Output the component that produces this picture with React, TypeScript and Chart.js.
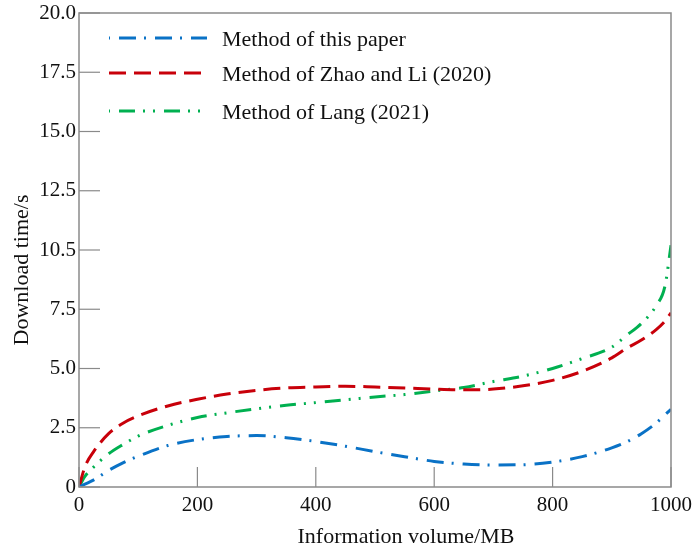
import React, { useEffect, useRef } from "react";
import { Chart, registerables } from "chart.js";

Chart.register(...registerables);

const xValues = [0, 10, 25, 50, 75, 100, 150, 200, 250, 300, 350, 400, 450, 500, 550, 600, 650, 700, 750, 800, 850, 900, 925, 950, 975, 990, 1000];
const thisPaper = [0, 0.12, 0.3, 0.7, 1.03, 1.3, 1.75, 2.0, 2.13, 2.17, 2.08, 1.92, 1.72, 1.49, 1.28, 1.08, 0.97, 0.93, 0.94, 1.05, 1.28, 1.65, 1.9, 2.25, 2.7, 3.05, 3.28];
const zhaoLi = [0, 0.85, 1.5, 2.25, 2.7, 3.0, 3.42, 3.7, 3.92, 4.08, 4.18, 4.22, 4.25, 4.22, 4.18, 4.13, 4.1, 4.13, 4.27, 4.5, 4.88, 5.45, 5.85, 6.2, 6.64, 7.0, 7.35];
const lang = [0, 0.45, 0.85, 1.4, 1.8, 2.15, 2.6, 2.93, 3.13, 3.3, 3.45, 3.56, 3.68, 3.8, 3.9, 4.05, 4.2, 4.45, 4.68, 5.0, 5.42, 5.9, 6.4, 6.9, 7.65, 8.5, 10.2];

const seriesNames = ["Method of this paper", "Method of Zhao and Li (2020)", "Method of Lang (2021)"];
const xTickLabels = ["0", "200", "400", "600", "800", "1000"];
const yTickLabels = ["0", "2.5", "5.0", "7.5", "10.5", "12.5", "15.0", "17.5", "20.0"];
const xTitle = "Information volume/MB";
const yTitle = "Download time/s";

const FONT = '"Liberation Serif", "Times New Roman", serif';
const colors = ["#0a72c6", "#c8000a", "#00b050"];
const dashes = [[17, 8, 2, 9], [17, 8], [16, 8, 2, 8, 2, 9]];
const AXIS = "#8a8a8a";

const framePlugin = {
  id: "frame",
  afterDraw(chart: any) {
    const { ctx, chartArea } = chart;
    const { left, right, top, bottom } = chartArea;
    ctx.save();
    ctx.strokeStyle = AXIS;
    ctx.lineWidth = 1.5;
    ctx.strokeRect(left, top, right - left, bottom - top);
    // inward tick marks
    ctx.lineWidth = 1.2;
    const xs = chart.scales.x;
    xs.ticks.forEach((t: any) => {
      const px = xs.getPixelForValue(t.value);
      ctx.beginPath();
      ctx.moveTo(px, bottom);
      ctx.lineTo(px, bottom - 20);
      ctx.stroke();
    });
    const ys = chart.scales.y;
    ys.ticks.forEach((t: any) => {
      const py = ys.getPixelForValue(t.value);
      ctx.beginPath();
      ctx.moveTo(left, py);
      ctx.lineTo(left + 21, py);
      ctx.stroke();
    });
    // axis titles
    ctx.fillStyle = "#111";
    ctx.font = `22px ${FONT}`;
    ctx.textAlign = "center";
    ctx.textBaseline = "alphabetic";
    ctx.fillText(xTitle, left + (right - left) / 2 + 31, 543);
    ctx.save();
    ctx.translate(28, top + (bottom - top) / 2 + 20);
    ctx.rotate(-Math.PI / 2);
    ctx.fillText(yTitle, 0, 0);
    ctx.restore();
    // legend
    ctx.font = `22px ${FONT}`;
    ctx.textAlign = "left";
    ctx.textBaseline = "middle";
    const rows = [38, 73, 111];
    chart.data.datasets.forEach((ds: any, i: number) => {
      const y = rows[i];
      ctx.save();
      ctx.strokeStyle = ds.borderColor;
      ctx.lineWidth = 3;
      ctx.setLineDash(ds.borderDash);
      ctx.lineDashOffset = i === 1 ? 0 : -10;
      ctx.beginPath();
      ctx.moveTo(left + 30, y);
      ctx.lineTo(left + 128, y);
      ctx.stroke();
      ctx.restore();
      ctx.fillStyle = "#111";
      ctx.fillText(ds.label, left + 143, y + 2);
    });
    ctx.restore();
  },
};

export default function App() {
  const ref = useRef<HTMLCanvasElement>(null);
  useEffect(() => {
    document.body.style.margin = "0";
    const mk = (vals: number[]) => xValues.map((x, i) => ({ x, y: vals[i] }));
    const all = [thisPaper, zhaoLi, lang];
    const chart = new Chart(ref.current!, {
      type: "line",
      data: {
        datasets: all.map((vals, i) => ({
          label: seriesNames[i],
          data: mk(vals),
          borderColor: colors[i],
          backgroundColor: colors[i],
          borderWidth: 3,
          borderDash: dashes[i],
          pointRadius: 0,
          cubicInterpolationMode: "monotone" as const,
          fill: false,
        })),
      },
      options: {
        animation: false,
        responsive: false,
        devicePixelRatio: 1,
        layout: { padding: { left: 0, right: 22, top: 13, bottom: 0 } },
        plugins: { legend: { display: false }, tooltip: { enabled: false } },
        scales: {
          x: {
            type: "linear",
            min: 0,
            max: 1000,
            ticks: {
              stepSize: 200,
              color: "#111",
              font: { family: FONT, size: 21 },
              padding: 6,
              maxRotation: 0,
              callback: (_v: any, i: number) => xTickLabels[i],
            },
            grid: { display: false, drawTicks: false },
            border: { display: false },
            afterFit: (s: any) => {
              s.height = 549 - 487;
              s.paddingRight = 0;
              s.paddingLeft = 0;
            },
          },
          y: {
            type: "linear",
            min: 0,
            max: 20,
            ticks: {
              stepSize: 2.5,
              color: "#111",
              font: { family: FONT, size: 21 },
              padding: 3,
              callback: (_v: any, i: number) => yTickLabels[i],
            },
            grid: { display: false, drawTicks: false },
            border: { display: false },
            afterFit: (s: any) => {
              s.width = 79;
              s.paddingTop = 0;
              s.paddingBottom = 0;
            },
          },
        },
      },
      plugins: [framePlugin],
    });
    return () => chart.destroy();
  }, []);
  return (
    <div style={{ width: 693, height: 549, background: "#fff" }}>
      <canvas ref={ref} width={693} height={549} />
    </div>
  );
}
